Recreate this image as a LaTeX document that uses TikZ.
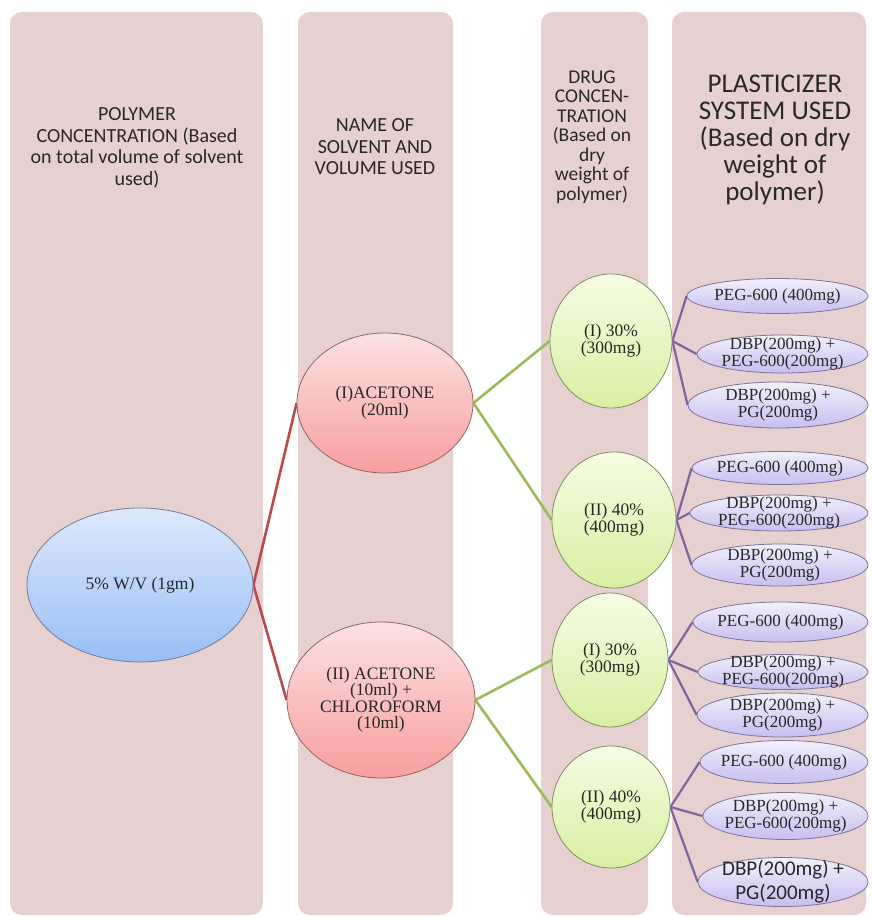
\documentclass[tikz,border=0pt]{standalone}
\usepackage{fontspec}
\setmainfont{Liberation Serif}
\newfontfamily\carl{Carlito}
\usetikzlibrary{shapes.geometric}
\pgfdeclarelayer{bg}
\pgfsetlayers{bg,main}
\definecolor{colbg}{RGB}{230,208,208}
\definecolor{bluetop}{RGB}{222,233,252}
\definecolor{bluebot}{RGB}{152,190,245}
\definecolor{bluebd}{RGB}{115,125,155}
\definecolor{redtop}{RGB}{252,226,226}
\definecolor{redbot}{RGB}{248,158,158}
\definecolor{redbd}{RGB}{150,100,100}
\definecolor{greentop}{RGB}{246,252,228}
\definecolor{greenbot}{RGB}{216,240,162}
\definecolor{greenbd}{RGB}{130,145,95}
\definecolor{purptop}{RGB}{242,240,252}
\definecolor{purpbot}{RGB}{200,190,240}
\definecolor{purpbd}{RGB}{125,115,155}
\definecolor{redline}{RGB}{185,75,75}
\definecolor{greenline}{RGB}{155,187,89}
\definecolor{purpline}{RGB}{128,100,162}
\definecolor{txt}{RGB}{40,40,40}
\begin{document}
\begin{tikzpicture}[x=1pt,y=-1pt,
  colbox/.style={fill=colbg, draw=none, rounded corners=12pt},
  ell/.style={ellipse, inner sep=0pt, line width=0.8pt},
  blueell/.style={ell, draw=bluebd, top color=bluetop, bottom color=bluebot},
  redell/.style={ell, draw=redbd, top color=redtop, bottom color=redbot},
  greenell/.style={ell, draw=greenbd, top color=greentop, bottom color=greenbot},
  purpell/.style={ell, draw=purpbd, top color=purptop, bottom color=purpbot},
  etext/.style={font=\fontsize{17.5}{16.5}\selectfont, align=center, text=txt, inner sep=0pt},
  ptext/.style={font=\fontsize{17}{15}\selectfont, align=center, text=txt, inner sep=0pt},
  pctext/.style={font=\carl\fontsize{21}{24}\selectfont, align=center, text=txt, inner sep=0pt},
  hdra/.style={font=\carl\fontsize{20}{21.5}\selectfont, align=center, text=txt, inner sep=0pt},
  hdrb/.style={font=\carl\fontsize{19.5}{19.5}\selectfont, align=center, text=txt, inner sep=0pt},
  hdrc/.style={font=\carl\fontsize{27}{27}\selectfont, align=center, text=txt, inner sep=0pt},
  redcon/.style={draw=redline, line width=2.6pt},
  greencon/.style={draw=greenline, line width=2.6pt},
  purpcon/.style={draw=purpline, line width=2.2pt}
]
\useasboundingbox (0,0) rectangle (871,917);
\begin{pgfonlayer}{bg}
\fill[white] (0,0) rectangle (871,917);
\fill[colbox] (10,12) rectangle (263,915);
\fill[colbox] (298,12) rectangle (453,915);
\fill[colbox] (541,12) rectangle (648,915);
\fill[colbox] (672,12) rectangle (866,915);
\end{pgfonlayer}

% headers
\node[hdra] (h1) at (137,148) {POLYMER\\CONCENTRATION (Based\\on total volume of solvent\\used)};
\node[hdra] (h2) at (375,147) {NAME OF\\SOLVENT AND\\VOLUME USED};
\node[hdrb] (h3) at (592,137) {DRUG\\CONCEN-\\TRATION\\(Based on\\dry\\weight of\\polymer)};
\node[hdrc] (h4) at (775,140) {PLASTICIZER\\SYSTEM USED\\(Based on dry\\weight of\\polymer)};

% level 1
\node[blueell, minimum width=226pt, minimum height=154pt,
  label={[etext]center:{5\% W/V (1gm)}}] (blue) at (140,585) {};
% level 2
\node[redell, minimum width=176pt, minimum height=140pt,
  label={[etext]center:{(I)ACETONE\\(20ml)}}] (red1) at (385,403) {};
\node[redell, minimum width=188pt, minimum height=156pt,
  label={[etext]center:{(II) ACETONE\\(10ml) +\\CHLOROFORM\\(10ml)}}] (red2) at (381,700) {};
% level 3
\node[greenell, minimum width=122pt, minimum height=134pt,
  label={[etext]center:{(I) 30\%\\(300mg)}}] (g1) at (611,341) {};
\node[greenell, minimum width=124pt, minimum height=136pt,
  label={[etext]center:{(II) 40\%\\(400mg)}}] (g2) at (614,520) {};
\node[greenell, minimum width=116pt, minimum height=134pt,
  label={[etext]center:{(I) 30\%\\(300mg)}}] (g3) at (610,660) {};
\node[greenell, minimum width=118pt, minimum height=122pt,
  label={[etext]center:{(II) 40\%\\(400mg)}}] (g4) at (611,807) {};
% level 4
\node[purpell, minimum width=181pt, minimum height=35pt,
  label={[ptext]center:{PEG-600 (400mg)}}] (p1) at (777.5,296) {};
\node[purpell, minimum width=171pt, minimum height=38pt,
  label={[ptext]center:{DBP(200mg) +\\PEG-600(200mg)}}] (p2) at (782.5,354) {};
\node[purpell, minimum width=180pt, minimum height=46pt,
  label={[ptext]center:{DBP(200mg) +\\PG(200mg)}}] (p3) at (778,405) {};
\node[purpell, minimum width=176pt, minimum height=33pt,
  label={[ptext]center:{PEG-600 (400mg)}}] (p4) at (780,468) {};
\node[purpell, minimum width=178pt, minimum height=36pt,
  label={[ptext]center:{DBP(200mg) +\\PEG-600(200mg)}}] (p5) at (779,513) {};
\node[purpell, minimum width=176pt, minimum height=42pt,
  label={[ptext]center:{DBP(200mg) +\\PG(200mg)}}] (p6) at (780,565) {};
\node[purpell, minimum width=175pt, minimum height=40pt,
  label={[ptext]center:{PEG-600 (400mg)}}] (p7) at (780.5,622) {};
\node[purpell, minimum width=170pt, minimum height=35pt,
  label={[ptext]center:{DBP(200mg) +\\PEG-600(200mg)}}] (p8) at (783,672) {};
\node[purpell, minimum width=171pt, minimum height=44pt,
  label={[ptext]center:{DBP(200mg) +\\PG(200mg)}}] (p9) at (782.5,715) {};
\node[purpell, minimum width=168pt, minimum height=43pt,
  label={[ptext]center:{PEG-600 (400mg)}}] (p10) at (784,762) {};
\node[purpell, minimum width=165pt, minimum height=47pt,
  label={[ptext]center:{DBP(200mg) +\\PEG-600(200mg)}}] (p11) at (785.5,816) {};
\node[purpell, minimum width=170pt, minimum height=49pt,
  label={[pctext]center:{DBP(200mg) +\\PG(200mg)}}] (p12) at (783,882) {};

\begin{pgfonlayer}{bg}
\draw[redcon] (blue.east) -- (red1.west);
\draw[redcon] (blue.east) -- (red2.west);
\draw[greencon] (red1.east) -- (g1.west);
\draw[greencon] (red1.east) -- (g2.west);
\draw[greencon] (red2.east) -- (g3.west);
\draw[greencon] (red2.east) -- (g4.west);
\foreach \g/\a/\b/\c in {g1/p1/p2/p3, g2/p4/p5/p6, g3/p7/p8/p9, g4/p10/p11/p12}{
  \draw[purpcon] (\g.east) -- (\a.west);
  \draw[purpcon] (\g.east) -- (\b.west);
  \draw[purpcon] (\g.east) -- (\c.west);
}
\end{pgfonlayer}
\end{tikzpicture}
\end{document}
